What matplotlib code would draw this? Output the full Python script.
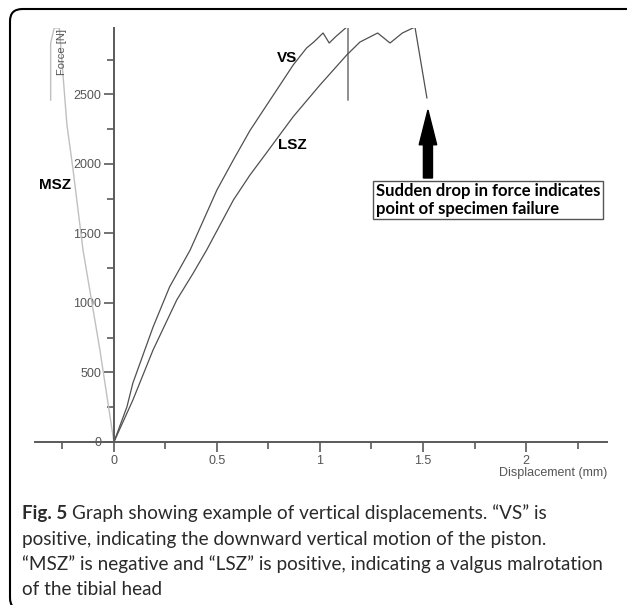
import matplotlib
matplotlib.use("Agg")
import matplotlib.pyplot as plt
from matplotlib.patches import FancyBboxPatch

# curves (displacement mm, force N)
vs_x = [0, 0.063, 0.092, 0.19, 0.27, 0.37, 0.50, 0.58, 0.66, 0.74, 0.806, 0.87, 0.935, 0.97, 1.015, 1.045, 1.075, 1.13, 1.136, 1.136]
vs_y = [0, 252, 424, 827, 1115, 1381, 1813, 2030, 2240, 2420, 2568, 2712, 2834, 2877, 2942, 2870, 2914, 2985, 2985, 2460]

lsz_x = [0, 0.092, 0.19, 0.305, 0.385, 0.45, 0.58, 0.66, 0.74, 0.82, 0.87, 1.0, 1.13, 1.194, 1.243, 1.28, 1.34, 1.40, 1.461, 1.519]
lsz_y = [0, 302, 662, 1022, 1215, 1381, 1741, 1920, 2079, 2240, 2340, 2568, 2784, 2877, 2914, 2942, 2870, 2942, 2985, 2475]

msz_x = [0, -0.068, -0.15, -0.20, -0.228, -0.265, -0.29, -0.307, -0.307]
msz_y = [0, 662, 1381, 1978, 2280, 2978, 2978, 2870, 2460]

x_major = [0, 0.5, 1, 1.5, 2]
x_labels = ["0", "0.5", "1", "1.5", "2"]
x_minor = [-0.25, 0.25, 0.75, 1.25, 1.75, 2.25]
y_major = [0, 500, 1000, 1500, 2000, 2500]
y_minor = [250, 750, 1250, 1750, 2250, 2750]

W, H = 627, 605


def fx(x):
    return x / W


def fy(y):
    return 1 - y / H


fig = plt.figure(figsize=(W / 100, H / 100), dpi=100)
ax = fig.add_axes([fx(35), fy(442), fx(607) - fx(35), fy(28) - fy(442)])
ax.set_xlim(-0.383, 2.393)
ax.set_ylim(0, 2978)

axcol = "#5a5a5a"
ax.plot(msz_x, msz_y, color="#c0c0c0", lw=1.0)
ax.plot(lsz_x, lsz_y, color="#505050", lw=0.9)
ax.plot(vs_x, vs_y, color="#505050", lw=0.9)

for s in ["top", "right"]:
    ax.spines[s].set_visible(False)
ax.spines["left"].set_position(("data", 0))
ax.spines["left"].set_color(axcol)
ax.spines["bottom"].set_color(axcol)
ax.spines["left"].set_linewidth(1.4)
ax.spines["bottom"].set_linewidth(1.4)

ax.set_xticks(x_major)
ax.set_xticklabels(x_labels)
ax.set_xticks(x_minor, minor=True)
ax.set_yticks(y_major)
ax.set_yticks(y_minor, minor=True)
ax.tick_params(which="major", length=7, width=1.2, color=axcol, labelcolor="#555555",
               labelsize=9, pad=2)
ax.tick_params(which="minor", length=5, width=1.2, color=axcol)
for lab in ax.get_xticklabels() + ax.get_yticklabels():
    lab.set_family("Liberation Sans")

fig.text(fx(62), fy(52), "Force [N]", rotation=90, ha="center", va="center",
         fontsize=8, color="#555555", family="Liberation Sans")
fig.text(fx(607), fy(473), "Displacement (mm)", ha="right", va="center",
         fontsize=9, color="#555555", family="Liberation Sans")

bold = dict(fontsize=11, fontweight="bold", family="Liberation Sans", color="black",
            ha="center", va="center")
fig.text(fx(287), fy(58), "VS", **bold)
fig.text(fx(292), fy(145), "LSZ", **bold)
fig.text(fx(55), fy(185), "MSZ", **bold)

# arrow pointing at the failure drop
ax.arrow(1.524, 1899, 0, 489, width=0.044, head_width=0.085, head_length=250,
         length_includes_head=True, color="black")
fig.text(fx(376), fy(200), "Sudden drop in force indicates\npoint of specimen failure",
         ha="left", va="center", fontsize=12, fontweight="bold", family="Lato",
         linespacing=1.15,
         bbox=dict(boxstyle="square,pad=0.15", fc="white", ec="#555555", lw=1))

# caption
cap = dict(fontsize=13.6, family="Lato", color="#2a2a2a", ha="left", va="baseline")
fig_lbl = fig.text(fx(22), fy(519), "Fig. 5", fontweight="bold", **cap)
r = fig.canvas.get_renderer()
x_end = fig_lbl.get_window_extent(r).x1
fig.text(x_end / W + fx(5), fy(519), "Graph showing example of vertical displacements. \u201cVS\u201d is", **cap)
fig.text(fx(22), fy(545), "positive, indicating the downward vertical motion of the piston.", **cap)
fig.text(fx(22), fy(570), "\u201cMSZ\u201d is negative and \u201cLSZ\u201d is positive, indicating a valgus malrotation", **cap)
fig.text(fx(22), fy(595), "of the tibial head", **cap)

border = FancyBboxPatch((fx(10), fy(610)), fx(640) - fx(10), fy(9) - fy(610),
                        boxstyle="round,pad=0,rounding_size=0.02",
                        transform=fig.transFigure, fc="none", ec="black", lw=1.5)
fig.patches.append(border)

fig.savefig("out.png", dpi=100)
